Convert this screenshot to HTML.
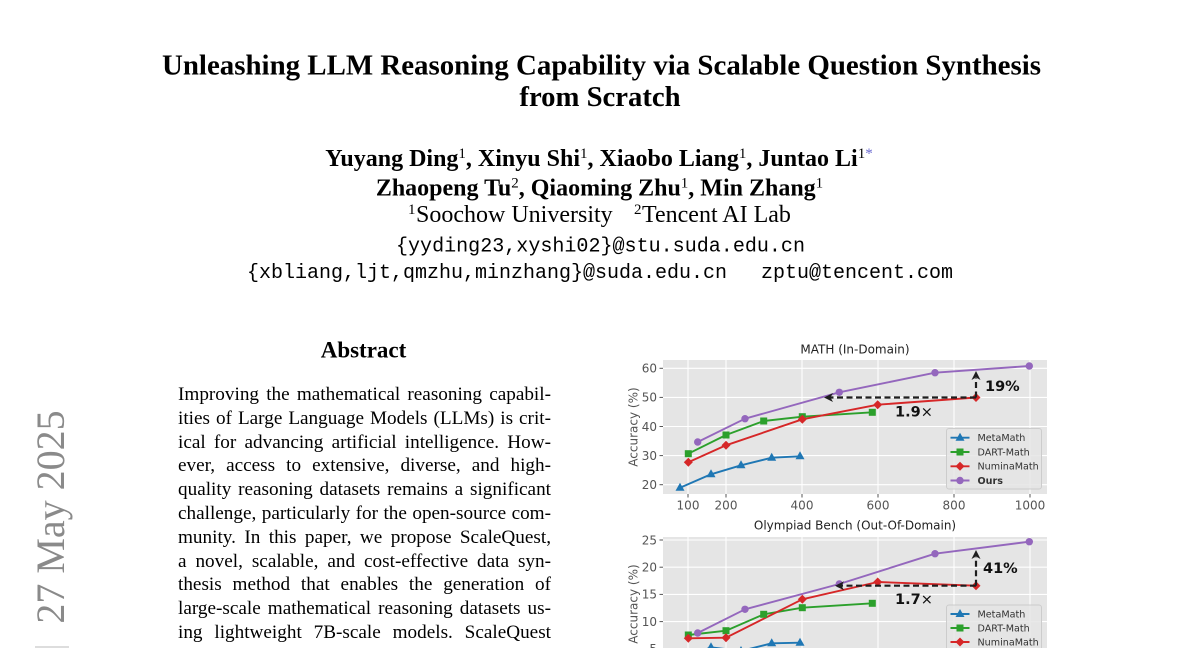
<!DOCTYPE html>
<html>
<head>
<meta charset="utf-8">
<style>
  html, body { margin:0; padding:0; background:#fff; }
  body { width:1200px; height:648px; overflow:hidden; position:relative; }
  svg { position:absolute; left:0; top:0; }
  .abs { position:absolute; left:178px; top:383px; width:373px;
         font-family:"Liberation Serif", serif; font-size:19.2px; color:#000; }
  .abs div { height:23.8px; line-height:23.8px; overflow:hidden;
             text-align:justify; text-align-last:justify; }
</style>
</head>
<body>
<svg width="1200" height="648" viewBox="0 0 1200 648" xmlns="http://www.w3.org/2000/svg">
  <!-- Title -->
  <g font-family="Liberation Serif, serif" fill="#000">
    <text x="601.5" y="74.5" text-anchor="middle" font-size="28.7" font-weight="bold" textLength="879" lengthAdjust="spacingAndGlyphs">Unleashing LLM Reasoning Capability via Scalable Question Synthesis</text>
    <text x="600" y="106" text-anchor="middle" font-size="28.7" font-weight="bold">from Scratch</text>

    <text x="599" y="166" text-anchor="middle" font-size="24" font-weight="bold">Yuyang Ding<tspan font-size="15" font-weight="normal" dy="-8">1</tspan><tspan dy="8">, Xinyu Shi</tspan><tspan font-size="15" font-weight="normal" dy="-8">1</tspan><tspan dy="8">, Xiaobo Liang</tspan><tspan font-size="15" font-weight="normal" dy="-8">1</tspan><tspan dy="8">, Juntao Li</tspan><tspan font-size="15" font-weight="normal" dy="-8">1</tspan><tspan font-size="15" font-weight="normal" fill="#6a6ad0">*</tspan></text>

    <text x="599.5" y="195.5" text-anchor="middle" font-size="24" font-weight="bold">Zhaopeng Tu<tspan font-size="15" font-weight="normal" dy="-8">2</tspan><tspan dy="8">, Qiaoming Zhu</tspan><tspan font-size="15" font-weight="normal" dy="-8">1</tspan><tspan dy="8">, Min Zhang</tspan><tspan font-size="15" font-weight="normal" dy="-8">1</tspan></text>

    <text x="408" y="214" font-size="15">1</text>
    <text x="416" y="222" font-size="24">Soochow University</text>
    <text x="634" y="214" font-size="15">2</text>
    <text x="642" y="222" font-size="24">Tencent AI Lab</text>
  </g>
  <g font-family="Liberation Mono, monospace" font-size="20" fill="#000">
    <text x="396" y="251.5" textLength="409" lengthAdjust="spacingAndGlyphs">{yyding23,xyshi02}@stu.suda.edu.cn</text>
    <text x="247" y="278" textLength="480" lengthAdjust="spacingAndGlyphs">{xbliang,ljt,qmzhu,minzhang}@suda.edu.cn</text>
    <text x="761" y="278" textLength="192" lengthAdjust="spacingAndGlyphs">zptu@tencent.com</text>
  </g>

  <!-- Abstract heading -->
  <text x="363.5" y="357.5" text-anchor="middle" font-family="Liberation Serif, serif" font-size="23" font-weight="bold" fill="#000">Abstract</text>

  <!-- Date stamp -->
  <text transform="translate(64,517) rotate(-90)" x="0" y="0" text-anchor="middle" font-family="Liberation Serif, serif" font-size="40" fill="#8a8a8a">27 May 2025</text>
  <rect x="35" y="646" width="34" height="2" fill="#dddddd"/>

  <!-- ============ TOP CHART ============ -->
  <g font-family="DejaVu Sans, sans-serif">
    <text x="855" y="353.5" text-anchor="middle" font-size="12" fill="#222">MATH (In-Domain)</text>
    <rect x="663" y="360" width="384" height="134" fill="#E5E5E5"/>
    <g stroke="#fff" stroke-width="1.1">
      <line x1="688" y1="360" x2="688" y2="494"/>
      <line x1="726" y1="360" x2="726" y2="494"/>
      <line x1="802" y1="360" x2="802" y2="494"/>
      <line x1="878" y1="360" x2="878" y2="494"/>
      <line x1="954" y1="360" x2="954" y2="494"/>
      <line x1="1030" y1="360" x2="1030" y2="494"/>
      <line x1="663" y1="368.3" x2="1047" y2="368.3"/>
      <line x1="663" y1="397.4" x2="1047" y2="397.4"/>
      <line x1="663" y1="426.5" x2="1047" y2="426.5"/>
      <line x1="663" y1="455.6" x2="1047" y2="455.6"/>
      <line x1="663" y1="484.7" x2="1047" y2="484.7"/>
    </g>
    <g stroke="#555" stroke-width="1">
      <line x1="659.5" y1="368.3" x2="663" y2="368.3"/>
      <line x1="659.5" y1="397.4" x2="663" y2="397.4"/>
      <line x1="659.5" y1="426.5" x2="663" y2="426.5"/>
      <line x1="659.5" y1="455.6" x2="663" y2="455.6"/>
      <line x1="659.5" y1="484.7" x2="663" y2="484.7"/>
      <line x1="688" y1="494" x2="688" y2="497.5"/>
      <line x1="726" y1="494" x2="726" y2="497.5"/>
      <line x1="802" y1="494" x2="802" y2="497.5"/>
      <line x1="878" y1="494" x2="878" y2="497.5"/>
      <line x1="954" y1="494" x2="954" y2="497.5"/>
      <line x1="1030" y1="494" x2="1030" y2="497.5"/>
    </g>
    <g font-size="12" fill="#555" text-anchor="end">
      <text x="657" y="372.6">60</text>
      <text x="657" y="401.7">50</text>
      <text x="657" y="430.8">40</text>
      <text x="657" y="459.9">30</text>
      <text x="657" y="489">20</text>
    </g>
    <g font-size="12" fill="#555" text-anchor="middle">
      <text x="688" y="509.5">100</text>
      <text x="726" y="509.5">200</text>
      <text x="802" y="509.5">400</text>
      <text x="878" y="509.5">600</text>
      <text x="954" y="509.5">800</text>
      <text x="1030" y="509.5">1000</text>
    </g>
    <text transform="translate(637.5,427) rotate(-90)" text-anchor="middle" font-size="12" fill="#555">Accuracy (%)</text>

    <!-- series -->
    <g fill="none" stroke-width="1.9" stroke-linejoin="round">
      <polyline stroke="#1f77b4" points="680,487.7 711,474.3 741,465.3 771.7,457.7 800,456.3"/>
      <polyline stroke="#2ca02c" points="688.3,453.7 726,435 763.7,421 802.3,416.7 872.3,412.3"/>
      <polyline stroke="#d62728" points="688.3,462.3 726,445.3 802.3,419.3 877.7,404.7 976,397.5"/>
      <polyline stroke="#9467bd" points="697.7,442 745,418.7 839.3,392.3 935,372.7 1029.3,366"/>
    </g>
    <g fill="#1f77b4">
      <polygon points="680,482.7 675.5,490.7 684.5,490.7"/>
      <polygon points="711,469.3 706.5,477.3 715.5,477.3"/>
      <polygon points="741,460.3 736.5,468.3 745.5,468.3"/>
      <polygon points="771.7,452.7 767.2,460.7 776.2,460.7"/>
      <polygon points="800,451.3 795.5,459.3 804.5,459.3"/>
    </g>
    <g fill="#2ca02c">
      <rect x="684.8" y="450.2" width="7" height="7"/>
      <rect x="722.5" y="431.5" width="7" height="7"/>
      <rect x="760.2" y="417.5" width="7" height="7"/>
      <rect x="798.8" y="413.2" width="7" height="7"/>
      <rect x="868.8" y="408.8" width="7" height="7"/>
    </g>
    <g fill="#d62728">
      <polygon points="688.3,457.8 692.8,462.3 688.3,466.8 683.8,462.3"/>
      <polygon points="726,440.8 730.5,445.3 726,449.8 721.5,445.3"/>
      <polygon points="802.3,414.8 806.8,419.3 802.3,423.8 797.8,419.3"/>
      <polygon points="877.7,400.2 882.2,404.7 877.7,409.2 873.2,404.7"/>
      <polygon points="976,393 980.5,397.5 976,402 971.5,397.5"/>
    </g>
    <g fill="#9467bd">
      <circle cx="697.7" cy="442" r="3.7"/>
      <circle cx="745" cy="418.7" r="3.7"/>
      <circle cx="839.3" cy="392.3" r="3.7"/>
      <circle cx="935" cy="372.7" r="3.7"/>
      <circle cx="1029.3" cy="366" r="3.7"/>
    </g>

    <!-- arrows -->
    <g stroke="#1e1e1e" stroke-width="2.2" stroke-dasharray="6,3.5" fill="none">
      <line x1="976" y1="397.5" x2="830" y2="397.5"/>
      <line x1="976" y1="397.5" x2="976" y2="378"/>
    </g>
    <polygon fill="#1e1e1e" points="824,397.5 833,393 830.5,397.5 833,402"/>
    <polygon fill="#1e1e1e" points="976,371 971.5,380 976,377.5 980.5,380"/>
    <text x="985" y="391" font-size="14.5" font-weight="bold" fill="#111">19%</text>
    <text x="895" y="416.5" font-size="14.5" fill="#111"><tspan font-weight="bold">1.9</tspan>×</text>

    <!-- legend -->
    <rect x="946.5" y="428.5" width="95" height="60.5" rx="2.5" fill="#E5E5E5" fill-opacity="0.85" stroke="#cccccc" stroke-width="1"/>
    <g stroke-width="1.9">
      <line x1="950.5" y1="437.7" x2="969.5" y2="437.7" stroke="#1f77b4"/>
      <line x1="950.5" y1="452" x2="969.5" y2="452" stroke="#2ca02c"/>
      <line x1="950.5" y1="466.3" x2="969.5" y2="466.3" stroke="#d62728"/>
      <line x1="950.5" y1="480.5" x2="969.5" y2="480.5" stroke="#9467bd"/>
    </g>
    <polygon fill="#1f77b4" points="960,432.7 955.5,440.7 964.5,440.7"/>
    <rect x="956.5" y="448.5" width="7" height="7" fill="#2ca02c"/>
    <polygon fill="#d62728" points="960,461.8 964.5,466.3 960,470.8 955.5,466.3"/>
    <circle cx="960" cy="480.5" r="3.7" fill="#9467bd"/>
    <g font-size="9.6" fill="#333">
      <text x="977.5" y="441">MetaMath</text>
      <text x="977.5" y="455.3">DART-Math</text>
      <text x="977.5" y="469.6">NuminaMath</text>
      <text x="977.5" y="483.8" font-weight="bold">Ours</text>
    </g>
  </g>

  <!-- ============ BOTTOM CHART ============ -->
  <g font-family="DejaVu Sans, sans-serif">
    <text x="855" y="529.5" text-anchor="middle" font-size="12" fill="#222">Olympiad Bench (Out-Of-Domain)</text>
    <rect x="663" y="537" width="384" height="120" fill="#E5E5E5"/>
    <g stroke="#fff" stroke-width="1.1">
      <line x1="688" y1="537" x2="688" y2="648"/>
      <line x1="726" y1="537" x2="726" y2="648"/>
      <line x1="802" y1="537" x2="802" y2="648"/>
      <line x1="878" y1="537" x2="878" y2="648"/>
      <line x1="954" y1="537" x2="954" y2="648"/>
      <line x1="1030" y1="537" x2="1030" y2="648"/>
      <line x1="663" y1="540" x2="1047" y2="540"/>
      <line x1="663" y1="567.2" x2="1047" y2="567.2"/>
      <line x1="663" y1="594.4" x2="1047" y2="594.4"/>
      <line x1="663" y1="621.6" x2="1047" y2="621.6"/>
      <line x1="663" y1="648.8" x2="1047" y2="648.8"/>
    </g>
    <g stroke="#555" stroke-width="1">
      <line x1="659.5" y1="540" x2="663" y2="540"/>
      <line x1="659.5" y1="567.2" x2="663" y2="567.2"/>
      <line x1="659.5" y1="594.4" x2="663" y2="594.4"/>
      <line x1="659.5" y1="621.6" x2="663" y2="621.6"/>
    </g>
    <g font-size="12" fill="#555" text-anchor="end">
      <text x="657" y="544.3">25</text>
      <text x="657" y="571.5">20</text>
      <text x="657" y="598.7">15</text>
      <text x="657" y="625.9">10</text>
      <text x="657" y="653.1">5</text>
    </g>
    <text transform="translate(637.5,604) rotate(-90)" text-anchor="middle" font-size="12" fill="#555">Accuracy (%)</text>

    <g fill="none" stroke-width="1.9" stroke-linejoin="round">
      <polyline stroke="#1f77b4" points="680,660 711,647.3 741,651 771.7,643.3 800,642.7"/>
      <polyline stroke="#2ca02c" points="688.3,635 726,630.7 763.7,614.3 802.3,607.7 872.3,603.3"/>
      <polyline stroke="#d62728" points="688.3,638.3 726,637.7 802.3,599.3 877.7,582 976,585.7"/>
      <polyline stroke="#9467bd" points="697.7,633 745,609.3 839.3,584 935,553.7 1029.3,541.7"/>
    </g>
    <g fill="#1f77b4">
      <polygon points="711,642.3 706.5,650.3 715.5,650.3"/>
      <polygon points="741,646 736.5,654 745.5,654"/>
      <polygon points="771.7,638.3 767.2,646.3 776.2,646.3"/>
      <polygon points="800,637.7 795.5,645.7 804.5,645.7"/>
    </g>
    <g fill="#2ca02c">
      <rect x="684.8" y="631.5" width="7" height="7"/>
      <rect x="722.5" y="627.2" width="7" height="7"/>
      <rect x="760.2" y="610.8" width="7" height="7"/>
      <rect x="798.8" y="604.2" width="7" height="7"/>
      <rect x="868.8" y="599.8" width="7" height="7"/>
    </g>
    <g fill="#d62728">
      <polygon points="688.3,633.8 692.8,638.3 688.3,642.8 683.8,638.3"/>
      <polygon points="726,633.2 730.5,637.7 726,642.2 721.5,637.7"/>
      <polygon points="802.3,594.8 806.8,599.3 802.3,603.8 797.8,599.3"/>
      <polygon points="877.7,577.5 882.2,582 877.7,586.5 873.2,582"/>
      <polygon points="976,581.2 980.5,585.7 976,590.2 971.5,585.7"/>
    </g>
    <g fill="#9467bd">
      <circle cx="697.7" cy="633" r="3.7"/>
      <circle cx="745" cy="609.3" r="3.7"/>
      <circle cx="839.3" cy="584" r="3.7"/>
      <circle cx="935" cy="553.7" r="3.7"/>
      <circle cx="1029.3" cy="541.7" r="3.7"/>
    </g>

    <g stroke="#1e1e1e" stroke-width="2.2" stroke-dasharray="6,3.5" fill="none">
      <line x1="976" y1="585.7" x2="841" y2="585.7"/>
      <line x1="976" y1="585.7" x2="976" y2="557"/>
    </g>
    <polygon fill="#1e1e1e" points="835,585.7 844,581.2 841.5,585.7 844,590.2"/>
    <polygon fill="#1e1e1e" points="976,550 971.5,559 976,556.5 980.5,559"/>
    <text x="983" y="573" font-size="14.5" font-weight="bold" fill="#111">41%</text>
    <text x="895" y="604" font-size="14.5" fill="#111"><tspan font-weight="bold">1.7</tspan>×</text>

    <rect x="946.5" y="605" width="95" height="62" rx="2.5" fill="#E5E5E5" fill-opacity="0.85" stroke="#cccccc" stroke-width="1"/>
    <g stroke-width="1.9">
      <line x1="950.5" y1="614" x2="969.5" y2="614" stroke="#1f77b4"/>
      <line x1="950.5" y1="628" x2="969.5" y2="628" stroke="#2ca02c"/>
      <line x1="950.5" y1="642" x2="969.5" y2="642" stroke="#d62728"/>
    </g>
    <polygon fill="#1f77b4" points="960,609 955.5,617 964.5,617"/>
    <rect x="956.5" y="624.5" width="7" height="7" fill="#2ca02c"/>
    <polygon fill="#d62728" points="960,637.5 964.5,642 960,646.5 955.5,642"/>
    <g font-size="9.6" fill="#333">
      <text x="977.5" y="617.3">MetaMath</text>
      <text x="977.5" y="631.3">DART-Math</text>
      <text x="977.5" y="645.3">NuminaMath</text>
    </g>
  </g>
</svg>

<div class="abs">
  <div>Improving the mathematical reasoning capabil-</div>
  <div>ities of Large Language Models (LLMs) is crit-</div>
  <div>ical for advancing artificial intelligence. How-</div>
  <div>ever, access to extensive, diverse, and high-</div>
  <div>quality reasoning datasets remains a significant</div>
  <div>challenge, particularly for the open-source com-</div>
  <div>munity. In this paper, we propose ScaleQuest,</div>
  <div>a novel, scalable, and cost-effective data syn-</div>
  <div>thesis method that enables the generation of</div>
  <div>large-scale mathematical reasoning datasets us-</div>
  <div>ing lightweight 7B-scale models. ScaleQuest</div>
</div>
</body>
</html>
